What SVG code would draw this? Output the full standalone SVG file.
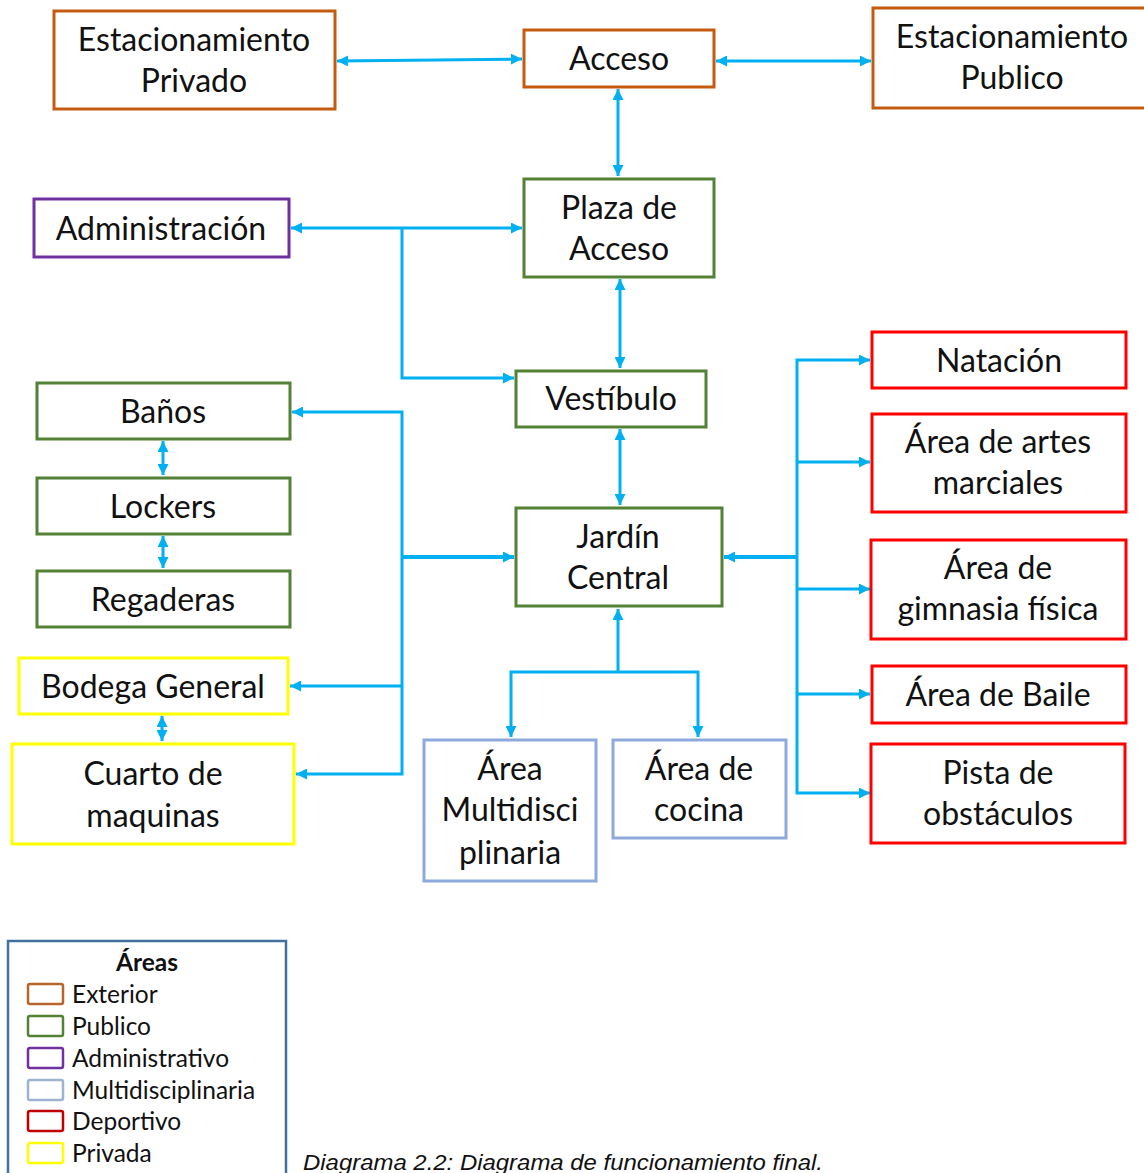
<svg xmlns="http://www.w3.org/2000/svg" width="1144" height="1173" viewBox="0 0 1144 1173">
<style>
.box{fill:#fff;stroke-width:3}
.ext{stroke:#C55A11}
.pub{stroke:#538135}
.adm{stroke:#7030A0}
.mul{stroke:#8EA9DB}
.dep{stroke:#FF0000}
.pri{stroke:#FFFF00}
.t{font-family:Lato,"Liberation Sans",sans-serif;font-size:32px;fill:#111;text-anchor:middle}
.c{fill:none;stroke:#00B0F0;stroke-width:3}
.ck{stroke-width:4}
.lg{font-family:Lato,"Liberation Sans",sans-serif;font-size:24.5px;fill:#111}
.ls{fill:#fff;stroke-width:2.5}
</style>
<defs>
<marker id="a" viewBox="0 0 10 10" refX="10" refY="5" markerWidth="11" markerHeight="11" markerUnits="userSpaceOnUse" orient="auto-start-reverse">
<path d="M0,0 L10,5 L0,10 z" fill="#00B0F0"/>
</marker>
</defs>
<rect width="1144" height="1173" fill="#fff"/>

<g id="connectors">
<path class="c" d="M337,61 L522,59" marker-start="url(#a)" marker-end="url(#a)"/>
<path class="c" d="M716,61 L871,61" marker-start="url(#a)" marker-end="url(#a)"/>
<path class="c" d="M618,89 L618,176" marker-start="url(#a)" marker-end="url(#a)"/>
<path class="c" d="M291,228 L522,228" marker-start="url(#a)" marker-end="url(#a)"/>
<path class="c" d="M402,228 L402,378 L514,378" marker-end="url(#a)"/>
<path class="c" d="M620,279 L620,368" marker-start="url(#a)" marker-end="url(#a)"/>
<path class="c" d="M620,429 L620,505" marker-start="url(#a)" marker-end="url(#a)"/>
<path class="c" d="M292,412 L402,412 L402,774 L296,774" marker-start="url(#a)" marker-end="url(#a)"/>
<path class="c" d="M402,686 L290,686" marker-end="url(#a)"/>
<path class="c ck" d="M402,557 L514,557" marker-end="url(#a)"/>
<path class="c" d="M163,441 L163,475" marker-start="url(#a)" marker-end="url(#a)"/>
<path class="c" d="M163,536 L163,568" marker-start="url(#a)" marker-end="url(#a)"/>
<path class="c" d="M162,716 L162,741" marker-start="url(#a)" marker-end="url(#a)"/>
<path class="c" d="M618,672 L618,609" marker-end="url(#a)"/>
<path class="c" d="M511,737 L511,672 L698,672 L698,737" marker-start="url(#a)" marker-end="url(#a)"/>
<path class="c" d="M870,360 L797,360 L797,793 L870,793" marker-start="url(#a)" marker-end="url(#a)"/>
<path class="c" d="M797,462 L870,462" marker-end="url(#a)"/>
<path class="c" d="M797,589 L870,589" marker-end="url(#a)"/>
<path class="c" d="M797,694 L870,694" marker-end="url(#a)"/>
<path class="c ck" d="M797,557 L724,557" marker-end="url(#a)"/>
</g>

<g id="est-privado"><rect class="box ext" x="54" y="11" width="281" height="98"/><text class="t" x="194" y="51">Estacionamiento</text><text class="t" x="194" y="92">Privado</text></g>
<g id="acceso"><rect class="box ext" x="524" y="30" width="190" height="57"/><text class="t" x="619" y="70">Acceso</text></g>
<g id="est-publico"><rect class="box ext" x="873" y="8" width="275" height="100"/><text class="t" x="1012" y="48">Estacionamiento</text><text class="t" x="1012" y="89">Publico</text></g>
<g id="administracion"><rect class="box adm" x="34" y="199" width="255" height="58"/><text class="t" x="161" y="240">Administración</text></g>
<g id="plaza"><rect class="box pub" x="524" y="179" width="190" height="98"/><text class="t" x="619" y="219">Plaza de</text><text class="t" x="619" y="260">Acceso</text></g>
<g id="vestibulo"><rect class="box pub" x="516" y="371" width="190" height="56"/><text class="t" x="611" y="410">Vestíbulo</text></g>
<g id="banos"><rect class="box pub" x="37" y="383" width="253" height="56"/><text class="t" x="163" y="423">Baños</text></g>
<g id="lockers"><rect class="box pub" x="37" y="478" width="253" height="56"/><text class="t" x="163" y="518">Lockers</text></g>
<g id="regaderas"><rect class="box pub" x="37" y="571" width="253" height="56"/><text class="t" x="163" y="611">Regaderas</text></g>
<g id="bodega"><rect class="box pri" x="19" y="658" width="269" height="56"/><text class="t" x="153" y="698">Bodega General</text></g>
<g id="cuarto"><rect class="box pri" x="12" y="744" width="282" height="100"/><text class="t" x="153" y="785">Cuarto de</text><text class="t" x="153" y="827">maquinas</text></g>
<g id="jardin"><rect class="box pub" x="516" y="508" width="206" height="98"/><text class="t" x="618" y="548">Jardín</text><text class="t" x="618" y="589">Central</text></g>
<g id="multi"><rect class="box mul" x="424" y="740" width="172" height="141"/><text class="t" x="510" y="780">Área</text><text class="t" x="510" y="821">Multidisci</text><text class="t" x="510" y="864">plinaria</text></g>
<g id="cocina"><rect class="box mul" x="613" y="740" width="173" height="98"/><text class="t" x="699" y="780">Área de</text><text class="t" x="699" y="821">cocina</text></g>
<g id="natacion"><rect class="box dep" x="872" y="332" width="254" height="56"/><text class="t" x="999" y="372">Natación</text></g>
<g id="artes"><rect class="box dep" x="872" y="414" width="254" height="98"/><text class="t" x="998" y="453">Área de artes</text><text class="t" x="998" y="494">marciales</text></g>
<g id="gimnasia"><rect class="box dep" x="871" y="540" width="255" height="99"/><text class="t" x="998" y="579">Área de</text><text class="t" x="998" y="620">gimnasia física</text></g>
<g id="baile"><rect class="box dep" x="872" y="666" width="254" height="57"/><text class="t" x="998" y="706">Área de Baile</text></g>
<g id="pista"><rect class="box dep" x="871" y="744" width="254" height="99"/><text class="t" x="998" y="784">Pista de</text><text class="t" x="998" y="825">obstáculos</text></g>

<g id="legend">
<rect x="8" y="941" width="278" height="240" fill="#fff" stroke="#41719C" stroke-width="2.5"/>
<text class="lg" x="147" y="971" text-anchor="middle" font-weight="bold">Áreas</text>
<rect class="ls" x="28" y="984" width="35" height="20" rx="2" stroke="#B8652B"/><text class="lg" x="72" y="1003">Exterior</text>
<rect class="ls" x="28" y="1016" width="35" height="20" rx="2" stroke="#548235"/><text class="lg" x="72" y="1035">Publico</text>
<rect class="ls" x="28" y="1048" width="35" height="20" rx="2" stroke="#7030A0"/><text class="lg" x="72" y="1067">Administrativo</text>
<rect class="ls" x="28" y="1080" width="35" height="20" rx="2" stroke="#9DB3CF"/><text class="lg" x="72" y="1099">Multidisciplinaria</text>
<rect class="ls" x="28" y="1111" width="35" height="20" rx="2" stroke="#C00000"/><text class="lg" x="72" y="1130">Deportivo</text>
<rect class="ls" x="28" y="1143" width="35" height="20" rx="2" stroke="#FFFF00"/><text class="lg" x="72" y="1162">Privada</text>
</g>

<text x="303" y="1170" font-family="'Liberation Sans',Arial,sans-serif" font-style="italic" font-size="22" textLength="520" lengthAdjust="spacingAndGlyphs" fill="#111">Diagrama 2.2: Diagrama de funcionamiento final.</text>
</svg>
